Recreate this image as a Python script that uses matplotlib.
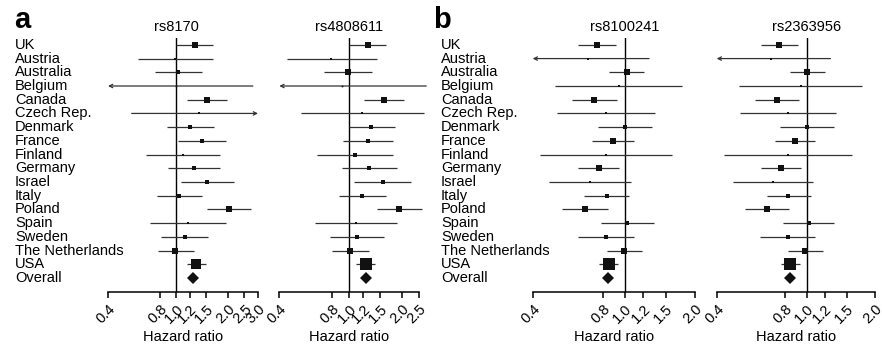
import numpy as np
import matplotlib.pyplot as plt
from matplotlib import transforms
from matplotlib.ticker import NullLocator

plt.rcParams['font.family'] = ['Liberation Sans', 'DejaVu Sans']

countries = ['UK', 'Austria', 'Australia', 'Belgium', 'Canada', 'Czech Rep.',
             'Denmark', 'France', 'Finland', 'Germany', 'Israel', 'Italy',
             'Poland', 'Spain', 'Sweden', 'The Netherlands', 'USA']

# --- rs8170 ---
rs8170_hr = [1.28, 0.99, 1.03, 1.00, 1.51, 1.35, 1.20, 1.41, 1.09, 1.27, 1.51, 1.04,
             2.03, 1.17, 1.12, 0.99, 1.30]
rs8170_lo = [1.00, 0.60, 0.75, 0.40, 1.16, 0.55, 0.88, 1.03, 0.67, 0.89, 1.07, 0.77,
             1.52, 0.70, 0.82, 0.78, 1.15]
rs8170_hi = [1.63, 1.65, 1.41, 2.80, 1.97, 3.00, 1.67, 1.94, 1.79, 1.80, 2.16, 1.41,
             2.72, 1.95, 1.53, 1.27, 1.49]
rs8170_size = [5.5, 2.7, 4.0, 1.5, 5.3, 2.0, 4.3, 4.3, 2.7, 4.0, 4.0, 4.3, 5.0, 2.7,
               4.0, 5.3, 10.0]
rs8170_overall = 1.26

# --- rs4808611 ---
rs4808611_hr = [1.28, 0.79, 0.98, 0.91, 1.58, 1.18, 1.33, 1.28, 1.08, 1.30, 1.55, 1.18,
                1.93, 1.09, 1.11, 1.01, 1.24]
rs4808611_lo = [1.00, 0.44, 0.72, 0.40, 1.22, 0.53, 1.00, 0.92, 0.66, 0.91, 1.07, 0.87,
                1.45, 0.64, 0.78, 0.80, 1.10]
rs4808611_hi = [1.62, 1.45, 1.35, 2.75, 2.06, 2.68, 1.83, 1.77, 1.77, 1.87, 2.24, 1.62,
                2.60, 1.88, 1.58, 1.30, 1.41]
rs4808611_size = [5.5, 2.5, 5.0, 1.5, 5.5, 2.0, 4.5, 4.5, 3.0, 4.0, 4.0, 4.5, 5.0, 2.7,
                  4.0, 5.5, 10.5]
rs4808611_overall = 1.24

# --- rs8100241 ---
rs8100241_hr = [0.755, 0.695, 1.02, 0.94, 0.737, 0.83, 1.00, 0.885, 0.828, 0.77, 0.709,
                0.834, 0.672, 1.023, 0.828, 0.99, 0.85]
rs8100241_lo = [0.625, 0.40, 0.853, 0.50, 0.591, 0.509, 0.765, 0.723, 0.43, 0.629, 0.471,
                0.668, 0.535, 0.788, 0.629, 0.834, 0.773]
rs8100241_hi = [0.915, 1.27, 1.21, 1.76, 0.924, 1.35, 1.31, 1.09, 1.60, 0.945, 1.065,
                1.044, 0.842, 1.33, 1.097, 1.18, 0.936]
rs8100241_size = [5.5, 2.0, 6.0, 2.0, 5.0, 2.3, 4.0, 5.0, 2.0, 5.0, 2.5, 4.5, 5.0, 4.0,
                  4.0, 6.0, 11.0]
rs8100241_overall = 0.845

# --- rs2363956 ---
rs2363956_hr = [0.756, 0.693, 1.00, 0.937, 0.736, 0.824, 1.00, 0.883, 0.824, 0.765, 0.707,
                0.829, 0.669, 1.02, 0.824, 0.984, 0.843]
rs2363956_lo = [0.628, 0.40, 0.845, 0.502, 0.588, 0.509, 0.763, 0.722, 0.43, 0.626, 0.471,
                0.664, 0.534, 0.784, 0.624, 0.829, 0.765]
rs2363956_hi = [0.912, 1.27, 1.20, 1.75, 0.918, 1.34, 1.31, 1.08, 1.58, 0.94, 1.06,
                1.04, 0.837, 1.32, 1.087, 1.18, 0.93]
rs2363956_size = [5.5, 2.0, 6.0, 2.0, 5.0, 2.3, 4.0, 5.0, 2.0, 5.0, 2.5, 4.5, 5.0, 4.0,
                  4.0, 6.0, 11.0]
rs2363956_overall = 0.84

ticks_a1 = [0.4, 0.8, 1.0, 1.2, 1.5, 2.0, 2.5, 3.0]
ticks_a2 = [0.4, 0.8, 1.0, 1.2, 1.5, 2.0, 2.5]
ticks_b = [0.4, 0.8, 1.0, 1.2, 1.5, 2.0]

# CI lines that run off the axis get an arrow head
truncated_a1 = {'Belgium': 'left', 'Czech Rep.': 'right'}
truncated_a2 = {'Belgium': 'left'}
truncated_b = {'Austria': 'left'}

panels = [
    ('rs8170', rs8170_hr, rs8170_lo, rs8170_hi, rs8170_size, rs8170_overall, ticks_a1, truncated_a1),
    ('rs4808611', rs4808611_hr, rs4808611_lo, rs4808611_hi, rs4808611_size, rs4808611_overall, ticks_a2, truncated_a2),
    ('rs8100241', rs8100241_hr, rs8100241_lo, rs8100241_hi, rs8100241_size, rs8100241_overall, ticks_b, truncated_b),
    ('rs2363956', rs2363956_hr, rs2363956_lo, rs2363956_hi, rs2363956_size, rs2363956_overall, ticks_b, truncated_b),
]

W, H = 882, 354
fig = plt.figure(figsize=(W / 100, H / 100), dpi=100)

# axes placement in pixels: (left, width)
boxes = [(108, 150), (279.3, 139.7), (532.7, 162.1), (716.7, 158.5)]
ax_top, ax_bot = 38, 292

line_col = '#333333'
axes = []
for (name, hr, lo, hi, size, overall, ticks, trunc), (x0, w) in zip(panels, boxes):
    ax = fig.add_axes([x0 / W, 1 - ax_bot / H, w / W, (ax_bot - ax_top) / H])
    axes.append(ax)
    ax.set_xscale('log')
    ax.set_xlim(ticks[0], ticks[-1])
    ax.set_ylim(18.02, -0.5)
    for s in ['left', 'top', 'right']:
        ax.spines[s].set_visible(False)
    ax.spines['bottom'].set_linewidth(1.1)
    ax.axvline(1.0, color='black', lw=1.0, zorder=1)

    for i, c in enumerate(countries):
        side = trunc.get(c)
        if side == 'left':
            ax.annotate('', xy=(ticks[0], i), xytext=(hi[i], i),
                        arrowprops=dict(arrowstyle='->', color=line_col, lw=0.9,
                                        shrinkA=0, shrinkB=0, mutation_scale=6))
        elif side == 'right':
            ax.annotate('', xy=(ticks[-1], i), xytext=(lo[i], i),
                        arrowprops=dict(arrowstyle='->', color=line_col, lw=0.9,
                                        shrinkA=0, shrinkB=0, mutation_scale=6))
        else:
            ax.plot([lo[i], hi[i]], [i, i], color=line_col, lw=0.9,
                    solid_capstyle='butt', clip_on=False, zorder=2)
        ax.plot(hr[i], i, 's', ms=size[i] * 0.78, color='#111111', mew=0,
                zorder=3, clip_on=False)
    ax.plot(overall, len(countries), 'D', ms=6.4, color='#111111', mew=0, zorder=3)

    ax.set_yticks([])
    ax.xaxis.set_minor_locator(NullLocator())
    ax.set_xticks(ticks)
    ax.set_xticklabels([f'{t:.1f}' for t in ticks], rotation=45, ha='right',
                       va='top', rotation_mode='anchor')
    ax.tick_params(axis='x', length=4, width=1.1, pad=3, labelsize=10.5)

    trans = transforms.blended_transform_factory(ax.transData, ax.transAxes)
    ax.text(1.0, 1.043, name, transform=trans, ha='center', va='center', fontsize=10.5)
    ax.text(0.5, -0.177, 'Hazard ratio', transform=ax.transAxes,
            ha='center', va='center', fontsize=10.5)

# country labels for each panel
rows = countries + ['Overall']
for ax, xl in [(axes[0], 15), (axes[2], 441)]:
    trans = transforms.blended_transform_factory(fig.transFigure, ax.transData)
    for i, c in enumerate(rows):
        fig.text(xl / W, i, c, transform=trans, ha='left', va='center', fontsize=10.5)

fig.text(14 / W, 1 - 28 / H, 'a', fontsize=21, fontweight='bold', va='baseline')
fig.text(433 / W, 1 - 28 / H, 'b', fontsize=21, fontweight='bold', va='baseline')

fig.savefig('out.png', dpi=100)
